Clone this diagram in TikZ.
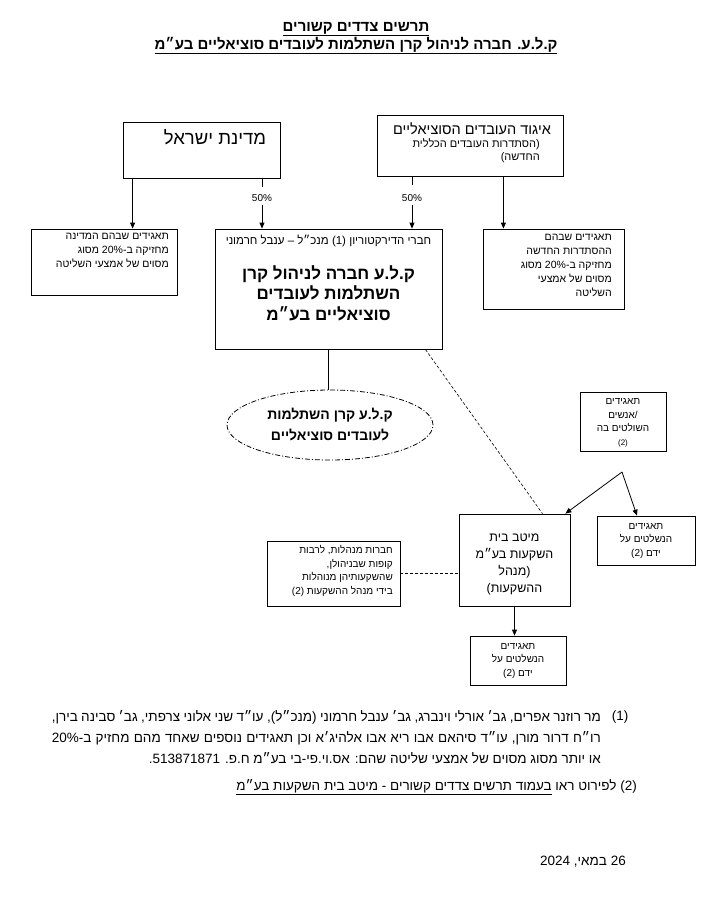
\documentclass[tikz,border=0pt]{standalone}
\usepackage{fontspec}
\setmainfont{Liberation Sans}
\newfontfamily\heb[Script=Hebrew]{Liberation Sans}
\TeXXeTstate=1
\usetikzlibrary{arrows.meta,shapes.geometric}
\newcommand\rl[1]{\beginR#1\endR}
\newcommand\lr[1]{\beginL#1\endL{}}

\begin{document}
\begin{tikzpicture}[x=1pt,y=-1pt,
    box/.style={draw,line width=.8pt,inner sep=0pt},
    arr/.style={-{Triangle[length=6pt,width=5pt]},line width=.8pt},
    link/.style={line width=.6pt,dash pattern=on 3pt off 2pt},
    txt/.style={font=\heb\fontsize{10.5}{14}\selectfont,inner sep=0pt},
    fn/.style={font=\heb\fontsize{13.5}{16}\selectfont,inner sep=0pt}]
    \useasboundingbox (0,0) rectangle (719,903);
    \node[font=\heb\bfseries\fontsize{15}{18}\selectfont,align=center] (title) at (356,38)
      {\underline{\rl{תרשים צדדים קשורים}}\\\underline{\rl{ק.ל.ע. חברה לניהול קרן השתלמות לעובדים סוציאליים בע״מ}}};
    \node[box,minimum width=157,minimum height=56] (state) at (201.5,150) {};
    \node[font=\heb\fontsize{18.5}{22}\selectfont] (statename) at (215,137) {\rl{מדינת ישראל}};
    \node[box,minimum width=186,minimum height=61] (union) at (470,145.5) {};
    \node[font=\heb\fontsize{14.5}{16}\selectfont] (unionname) at (472,129) {\rl{איגוד העובדים הסוציאליים}};
    \node[txt,align=right,anchor=north east,font=\heb\fontsize{11}{13}\selectfont] (unionsub) at (540,138)
      {\rl{(הסתדרות העובדים הכללית}\\\rl{החדשה)}};
    \node[box,minimum width=146,minimum height=66] (statecos) at (104,262) {};
    \node[txt,align=right,anchor=north east] (statecostxt) at (169,233)
      {\rl{תאגידים שבהם המדינה}\\\rl{מחזיקה ב-\lr{20\%} מסוג}\\\rl{מסוים של אמצעי השליטה}};
    \node[box,minimum width=141,minimum height=80] (unioncos) at (553.5,269) {};
    \node[txt,align=right,anchor=north east] (unioncostxt) at (612,234)
      {\rl{תאגידים שבהם}\\\rl{ההסתדרות החדשה}\\\rl{מחזיקה ב-\lr{20\%} מסוג}\\\rl{מסוים של אמצעי}\\\rl{השליטה}};
    \node[box,minimum width=227,minimum height=120] (kla) at (328.5,289) {};
    \node[font=\heb\fontsize{11.5}{13}\selectfont] (board) at (328.5,241)
      {\rl{חברי הדירקטוריון \lr{(1)} מנכ״ל – ענבל חרמוני}};
    \node[font=\heb\bfseries\fontsize{17}{20.5}\selectfont,align=center] (klaname) at (328.5,293)
      {\rl{ק.ל.ע חברה לניהול קרן}\\\rl{השתלמות לעובדים}\\\rl{סוציאליים בע״מ}};
    \node[ellipse,draw,line width=.8pt,dash pattern=on 5pt off 2pt on 1pt off 2pt,
      minimum width=206,minimum height=70,inner sep=0pt,align=center,
      font=\heb\bfseries\fontsize{14}{21}\selectfont] (fund) at (330,425)
      {\rl{ק.ל.ע קרן השתלמות}\\\rl{לעובדים סוציאליים}};
    \node[box,minimum width=86,minimum height=59] (ctrl) at (623,421.5) {};
    \node[txt,align=center,font=\heb\fontsize{10}{13.5}\selectfont] (ctrltxt) at (623,423)
      {\rl{תאגידים}\\\rl{/אנשים}\\\rl{השולטים בה}\\{\fontsize{8}{10}\selectfont(2)}};
    \node[box,minimum width=98,minimum height=49] (ctrlled) at (646,540.5) {};
    \node[txt,align=center,font=\heb\fontsize{10}{13.5}\selectfont] (ctrlledtxt) at (646,541)
      {\rl{תאגידים}\\\rl{הנשלטים על}\\\rl{ידם \lr{(2)}}};
    \node[box,minimum width=111,minimum height=92] (mitav) at (514.5,560) {};
    \node[txt,align=center,font=\heb\fontsize{12.5}{17}\selectfont] (mitavtxt) at (514.5,564)
      {\rl{מיטב בית}\\\rl{השקעות בע״מ}\\\rl{(מנהל}\\\rl{ההשקעות)}};
    \node[box,minimum width=133,minimum height=65] (funds) at (333.5,573.5) {};
    \node[txt,align=right,anchor=east,font=\heb\fontsize{10}{13.5}\selectfont] (fundstxt) at (393,571)
      {\rl{חברות מנהלות, לרבות}\\\rl{קופות שבניהולן,}\\\rl{שהשקעותיהן מנוהלות}\\\rl{בידי מנהל ההשקעות \lr{(2)}}};
    \node[box,minimum width=96,minimum height=49] (owned) at (518,660.5) {};
    \node[txt,align=center,font=\heb\fontsize{10}{13.5}\selectfont] (ownedtxt) at (518,661)
      {\rl{תאגידים}\\\rl{הנשלטים על}\\\rl{ידם \lr{(2)}}};
    \node[font=\fontsize{10}{12}\selectfont] (pa) at (262,198) {50\%};
    \node[font=\fontsize{10}{12}\selectfont] (pb) at (412,198) {50\%};
    \draw[line width=.8pt] (pa.north |- state.south) -- ++(0,9);
    \draw[arr] (pa.south) -- (pa.south |- kla.north);
    \draw[line width=.8pt] (pb.north |- union.south) -- ++(0,9);
    \draw[arr] (pb.south) -- (pb.south |- kla.north);
    \draw[arr] ([xshift=10]state.south west) -- ([xshift=10]state.south west |- statecos.north);
    \draw[arr] ([xshift=-60]union.south east) -- ([xshift=-60]union.south east |- unioncos.north);
    \draw[line width=.8pt] (kla.south) -- (kla.south |- fund.north);
    \draw[link] ([xshift=-17]kla.south east) -- ([xshift=28]mitav.north);
    \draw[link] (funds.east) -- (funds.east -| mitav.west);
    \coordinate (split) at (622,472);
    \draw[arr] (split) -- ([xshift=-5]mitav.north east);
    \draw[arr] (split) -- ([xshift=-9]ctrlled.north);
    \draw[arr] (mitav.south) -- (mitav.south |- owned.north);
    \node[fn] (fn1) at (620,717) {(1)};
    \node[fn,anchor=east] (fn1a) at (601,717)
      {\makebox[549pt][s]{\rl{מר רוזנר אפרים, גב׳ אורלי וינברג, גב׳ ענבל חרמוני (מנכ״ל), עו״ד שני אלוני צרפתי, גב׳ סבינה בירן,}}};
    \node[fn,anchor=east] (fn1b) at (601,738)
      {\makebox[549pt][s]{\rl{רו״ח דרור מורן, עו״ד סיהאם אבו ריא אבו אלהיג׳א וכן תאגידים נוספים שאחד מהם מחזיק ב-\lr{20\%}}}};
    \node[fn,anchor=east] (fn1c) at (601,758)
      {\rl{או יותר מסוג מסוים של אמצעי שליטה שהם: אס.וי.פי-בי בע״מ ח.פ. \lr{513871871}.}};
    \node[fn,anchor=east] (fn2) at (637,787)
      {\rl{\lr{(2)} לפירוט ראו \underline{\rl{בעמוד תרשים צדדים קשורים - מיטב בית השקעות בע״מ}}}};
    \node[fn,anchor=east] (date) at (626,862) {\rl{26 במאי, 2024}};
\end{tikzpicture}
\end{document}
